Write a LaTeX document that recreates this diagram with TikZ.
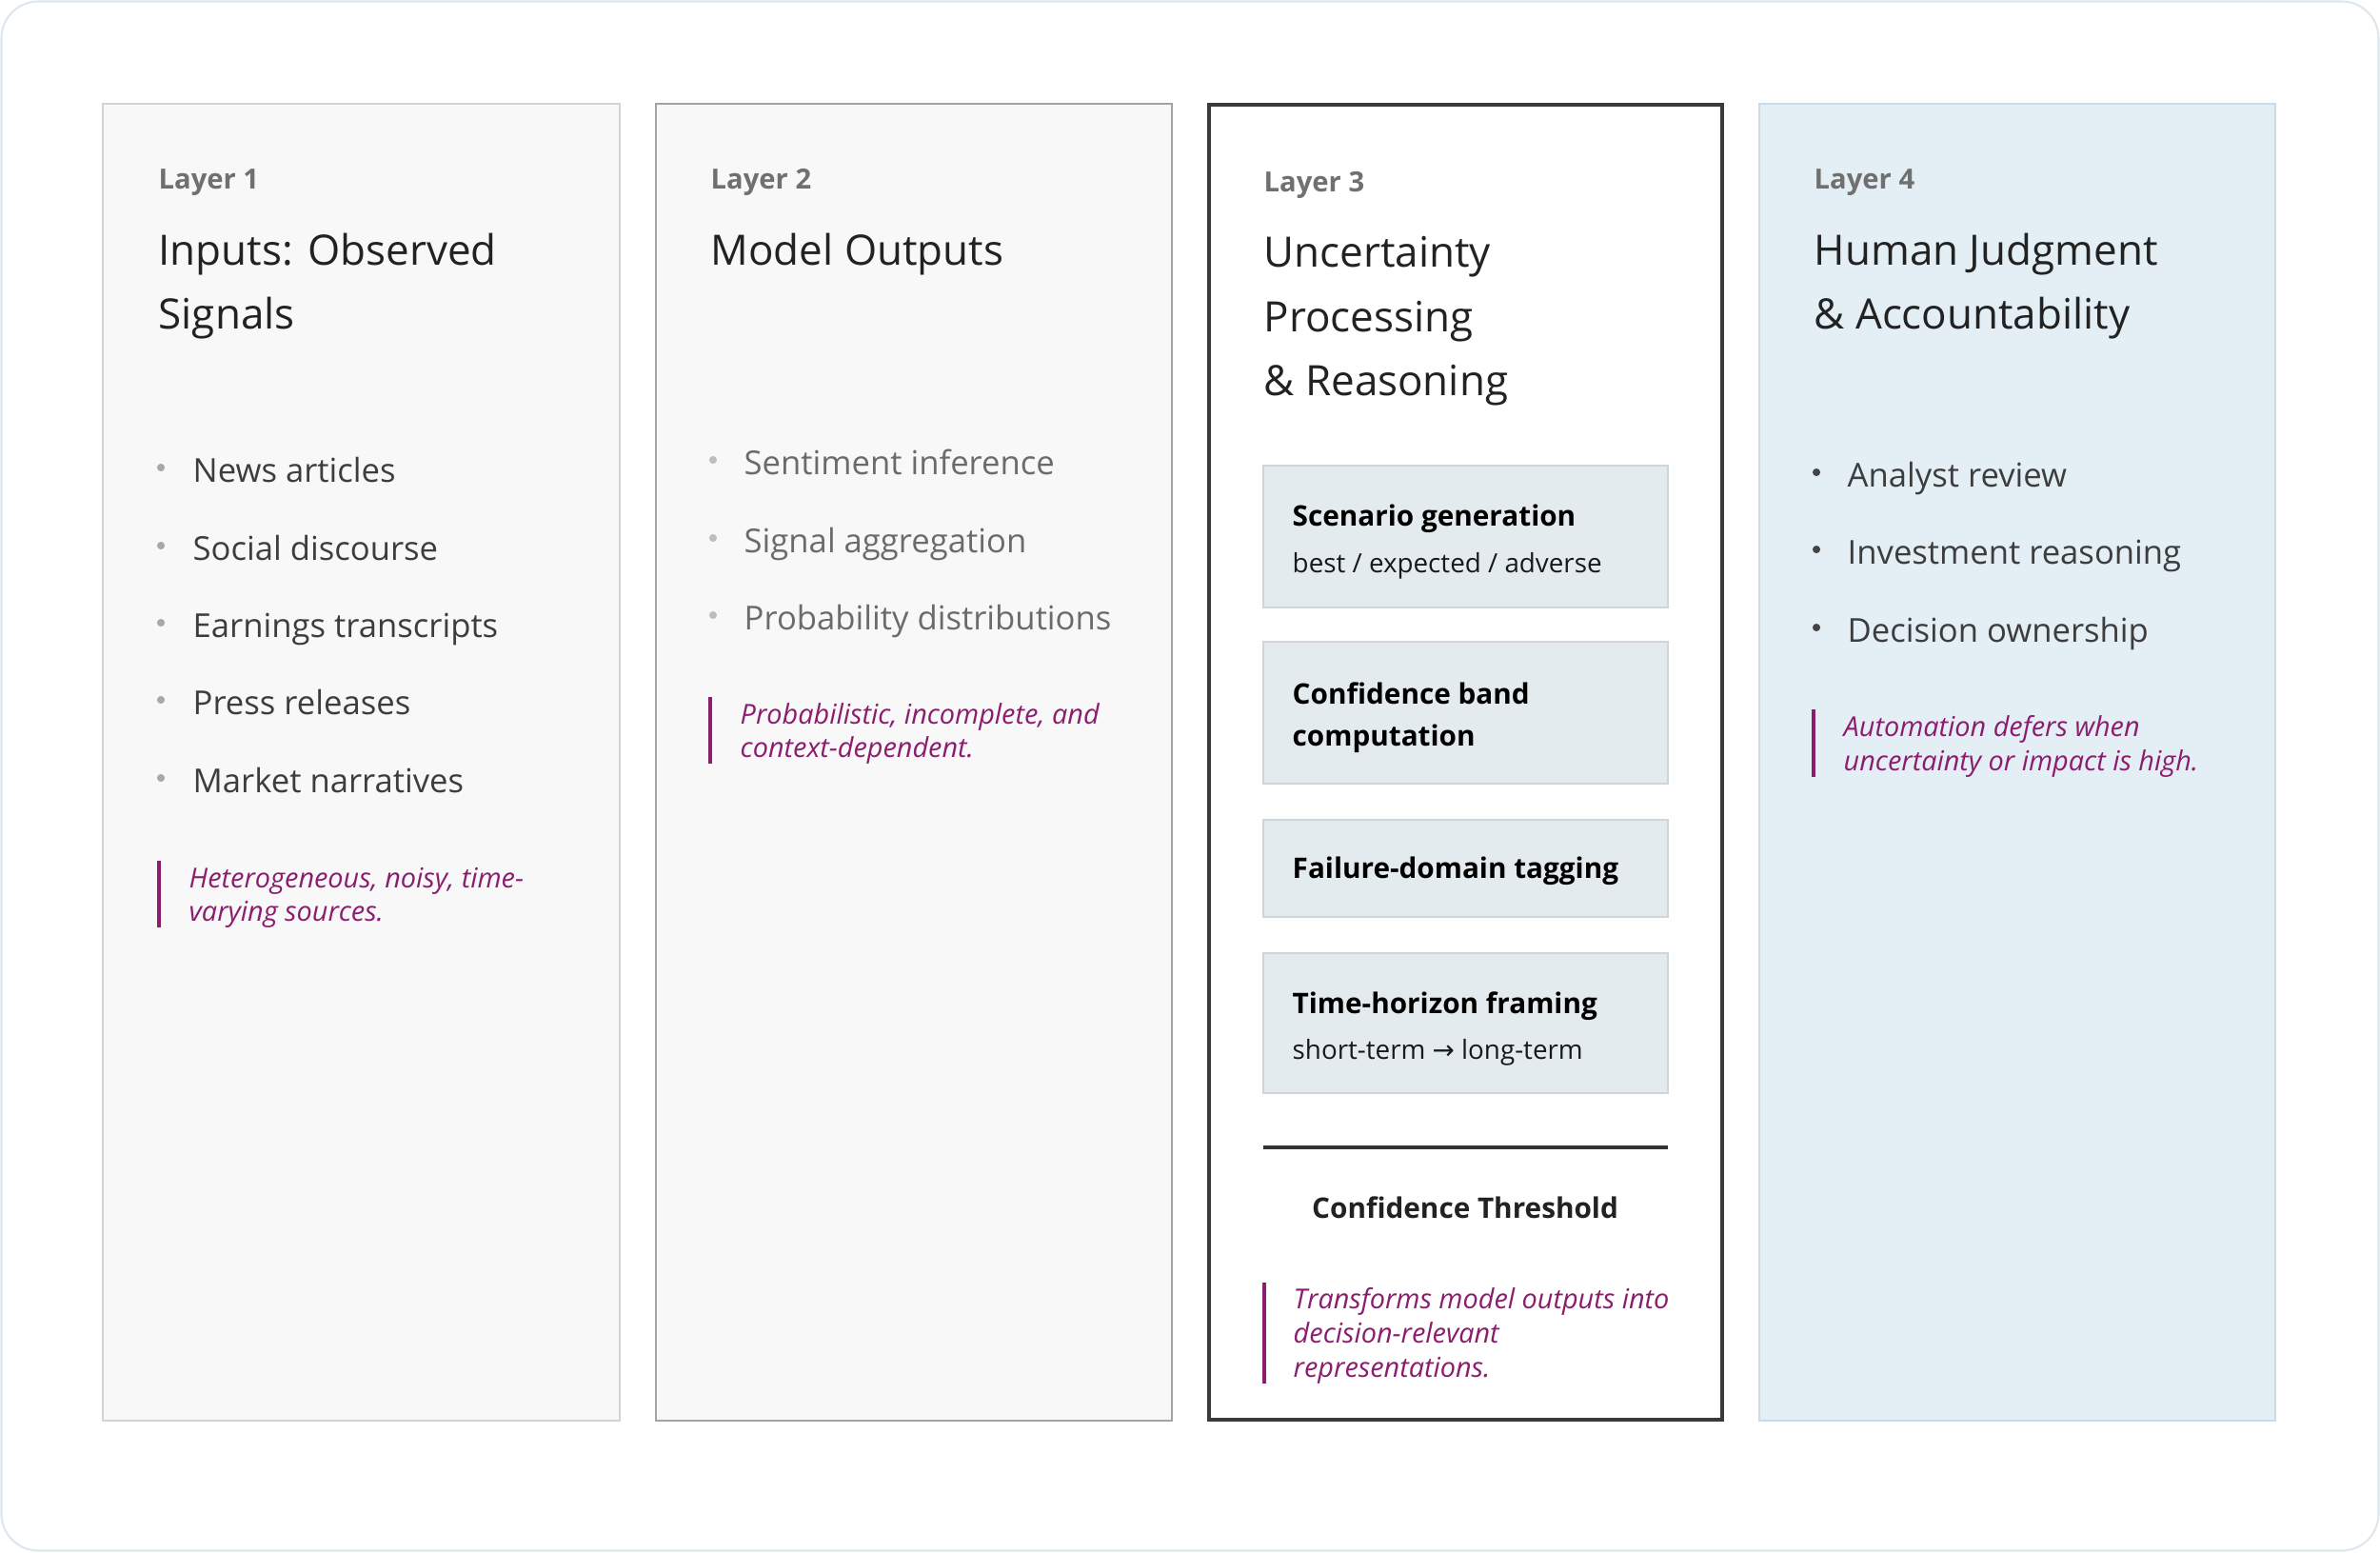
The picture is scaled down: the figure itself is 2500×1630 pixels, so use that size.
\documentclass[tikz,border=0pt]{standalone}
\usepackage{fontspec}
\setmainfont{Open Sans}
\newfontfamily\arrowfont{DejaVu Sans}
\definecolor{framecol}{HTML}{DCE7EE}
\definecolor{p1fill}{HTML}{F8F8F8}
\definecolor{p1line}{HTML}{D3D3D3}
\definecolor{p2line}{HTML}{A3A3A3}
\definecolor{p3line}{HTML}{3A3A3A}
\definecolor{p4fill}{HTML}{E3EEF5}
\definecolor{p4line}{HTML}{C8DCE7}
\definecolor{labgray}{HTML}{707070}
\definecolor{titlecol}{HTML}{222222}
\definecolor{bul1}{HTML}{3D3D3D}
\definecolor{bul2}{HTML}{6B6B6B}
\definecolor{dot1}{HTML}{A8A8A8}
\definecolor{dot2}{HTML}{BDBDBD}
\definecolor{dot4}{HTML}{444444}
\definecolor{notecol}{HTML}{8B1C6E}
\definecolor{boxfill}{HTML}{E4EBEE}
\definecolor{boxline}{HTML}{D0D5D8}
\definecolor{sepcol}{HTML}{333333}
\tikzset{
  layerlab/.style={font=\fontsize{8.3}{10}\selectfont\bfseries, text=labgray, inner sep=0, anchor=base west},
  ttl/.style={font=\fontsize{12.5}{15}\selectfont, text=titlecol, inner sep=0, anchor=base west},
  bulA/.style={font=\fontsize{9.85}{12}\selectfont, text=bul1, inner sep=0, anchor=base west},
  bulB/.style={font=\fontsize{9.85}{12}\selectfont, text=bul2, inner sep=0, anchor=base west},
  notetxt/.style={font=\fontsize{8.2}{10}\selectfont\itshape, text=notecol, inner sep=0, anchor=base west},
  boxhead/.style={font=\fontsize{8.45}{10}\selectfont\bfseries, text=black, inner sep=0, anchor=base west},
  boxsub/.style={font=\fontsize{7.9}{9}\selectfont, text=black!90, inner sep=0, anchor=base west},
  procbox/.style={draw=boxline, fill=boxfill, line width=0.6pt},
  notebar/.style={draw=notecol, line width=1.1pt},
}
\begin{document}
\begin{tikzpicture}[x=0.01cm,y=-0.01cm]
\useasboundingbox (0,0) rectangle (2500,1630);
\draw[framecol, fill=white, line width=0.6pt, rounded corners=11pt] (1.5,1.5) rectangle (2498.5,1628.5);

% panels
\draw[p1line, fill=p1fill, line width=0.6pt] (108,109) rectangle (651,1492);
\draw[p2line, fill=p1fill, line width=0.6pt] (689,109) rectangle (1231,1492);
\draw[p3line, fill=white, line width=1.2pt] (1270,110) rectangle (1809,1491);
\draw[p4line, fill=p4fill, line width=0.6pt] (1848,109) rectangle (2390,1492);

% ---- Layer 1
\node[layerlab] (l1) at (166,198) {Layer 1};
\node[ttl] (t1a) at (166,278) {Inputs: Observed};
\node[ttl] (t1b) at (166,345) {Signals};
\foreach \y/\t/\n in {506/News articles/a, 588/Social discourse/b, 669/Earnings transcripts/c, 750/Press releases/d, 832/Market narratives/e}{
  \fill[dot1] (169,\y-15) circle (1.15pt);
  \node[bulA] (b1\n) at (202,\y) {\t};
}
\draw[notebar] (167,904) -- (167,974);
\node[notetxt] (n1a) at (198,932) {Heterogeneous, noisy, time-};
\node[notetxt] (n1b) at (198,967) {varying sources.};

% ---- Layer 2
\node[layerlab] (l2) at (746,198) {Layer 2};
\node[ttl] (t2a) at (746,278) {Model Outputs};
\foreach \y/\t/\n in {498/Sentiment inference/a, 580/Signal aggregation/b, 661/Probability distributions/c}{
  \fill[dot2] (749,\y-15) circle (1.15pt);
  \node[bulB] (b2\n) at (781,\y) {\t};
}
\draw[notebar] (746,732) -- (746,802);
\node[notetxt] (n2a) at (777,760) {Probabilistic, incomplete, and};
\node[notetxt] (n2b) at (777,795) {context-dependent.};

% ---- Layer 3
\node[layerlab] (l3) at (1327,201) {Layer 3};
\node[ttl] (t3a) at (1327,280) {Uncertainty};
\node[ttl] (t3b) at (1327,348) {Processing};
\node[ttl] (t3c) at (1327,415) {\& Reasoning};

\draw[procbox] (1327,489) rectangle (1752,638);
\node[boxhead] (s1) at (1357,552) {Scenario generation};
\node[boxsub] (s1s) at (1357,601) {best / expected / adverse};

\draw[procbox] (1327,674) rectangle (1752,823);
\node[boxhead] (s2a) at (1357,739) {Confidence band};
\node[boxhead] (s2b) at (1357,783) {computation};

\draw[procbox] (1327,861) rectangle (1752,963);
\node[boxhead] (s3) at (1357,922) {Failure-domain tagging};

\draw[procbox] (1327,1001) rectangle (1752,1148);
\node[boxhead] (s4) at (1357,1064) {Time-horizon framing};
\node[boxsub] (s4s) at (1357,1112) {short-term {\arrowfont →} long-term};

\draw[sepcol, line width=0.9pt] (1327,1205) -- (1752,1205);
\node[boxhead, anchor=base, text=titlecol] (ct) at (1539,1279) {Confidence Threshold};

\draw[notebar] (1328,1347) -- (1328,1453);
\node[notetxt] (n3a) at (1358,1374) {Transforms model outputs into};
\node[notetxt] (n3b) at (1358,1410) {decision-relevant};
\node[notetxt] (n3c) at (1358,1446) {representations.};

% ---- Layer 4
\node[layerlab] (l4) at (1905,198) {Layer 4};
\node[ttl] (t4a) at (1905,278) {Human Judgment};
\node[ttl] (t4b) at (1905,345) {\& Accountability};
\foreach \y/\t/\n in {511/Analyst review/a, 592/Investment reasoning/b, 674/Decision ownership/c}{
  \fill[dot4] (1908,\y-15) circle (1.15pt);
  \node[bulA] (b4\n) at (1940,\y) {\t};
}
\draw[notebar] (1905,745) -- (1905,816);
\node[notetxt] (n4a) at (1936,773) {Automation defers when};
\node[notetxt] (n4b) at (1936,809) {uncertainty or impact is high.};
\end{tikzpicture}
\end{document}
